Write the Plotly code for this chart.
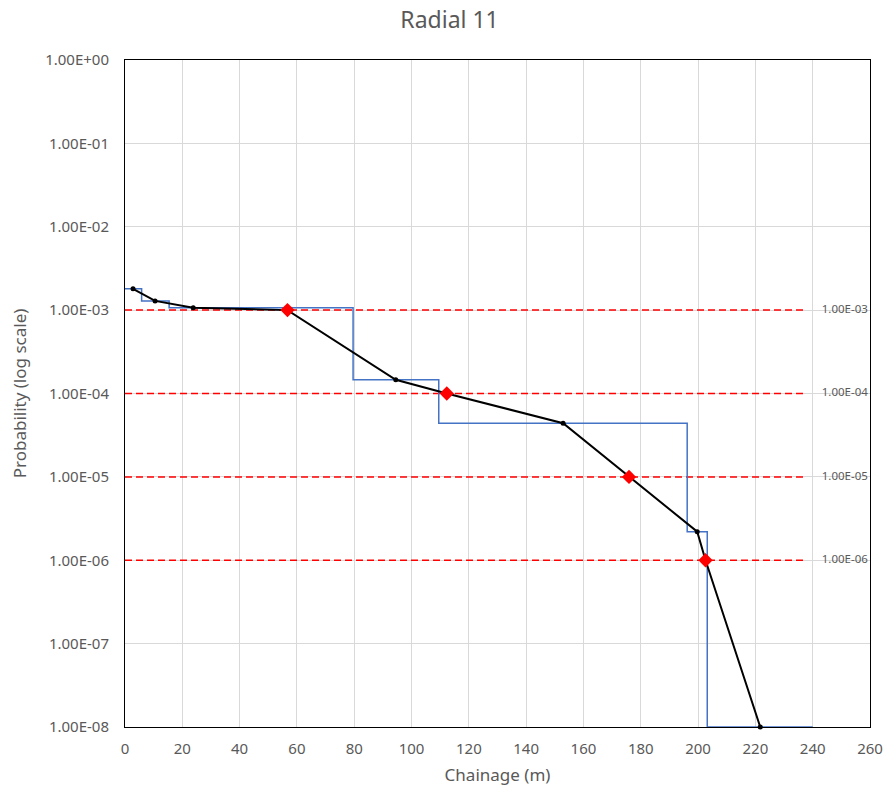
import plotly.graph_objects as go

# Blue step profile
step_x = [0, 5.8, 15.4, 79.6, 109.5, 196.2, 203.2, 240]
step_y = [1.8e-3, 1.29e-3, 1.07e-3, 1.46e-4, 4.4e-5, 2.2e-6, 1e-8, 1e-8]

# Black line (points incl. threshold crossings)
line_x = [2.8, 10.5, 23.8, 56.7, 94.5, 112.3, 152.9, 175.9, 199.7, 202.6, 221.7]
line_y = [1.8e-3, 1.29e-3, 1.07e-3, 1e-3, 1.46e-4, 1e-4, 4.4e-5, 1e-5, 2.2e-6, 1e-6, 1e-8]

# Black dot markers
dot_x = [2.8, 10.5, 23.8, 94.5, 152.9, 199.7, 221.7]
dot_y = [1.8e-3, 1.29e-3, 1.07e-3, 1.46e-4, 4.4e-5, 2.2e-6, 1e-8]

# Red diamond crossings
cross_x = [56.7, 112.3, 175.9, 202.6]
cross_y = [1e-3, 1e-4, 1e-5, 1e-6]

# Threshold lines
thresholds = [1e-3, 1e-4, 1e-5, 1e-6]
threshold_labels = ["1.00E-03", "1.00E-04", "1.00E-05", "1.00E-06"]
threshold_x_end = 238
label_x = 251.2

y_tickvals = [1e0, 1e-1, 1e-2, 1e-3, 1e-4, 1e-5, 1e-6, 1e-7, 1e-8]
y_ticktext = ["1.00E+00", "1.00E-01", "1.00E-02", "1.00E-03", "1.00E-04",
              "1.00E-05", "1.00E-06", "1.00E-07", "1.00E-08"]

fig = go.Figure()

for t in thresholds:
    fig.add_trace(go.Scatter(x=[0, threshold_x_end], y=[t, t], mode="lines",
                             line=dict(color="#FF0000", width=1.5, dash="7px,4px"),
                             showlegend=False, hoverinfo="skip"))

fig.add_trace(go.Scatter(x=step_x, y=step_y, mode="lines", line_shape="hv",
                         line=dict(color="#4472C4", width=1.5), showlegend=False))

fig.add_trace(go.Scatter(x=line_x, y=line_y, mode="lines",
                         line=dict(color="#000000", width=2), showlegend=False))

fig.add_trace(go.Scatter(x=dot_x, y=dot_y, mode="markers",
                         marker=dict(color="#000000", size=5), showlegend=False,
                         cliponaxis=False))

fig.add_trace(go.Scatter(x=cross_x, y=cross_y, mode="markers",
                         marker=dict(color="#FF0000", size=11, symbol="diamond"),
                         showlegend=False))

fig.add_trace(go.Scatter(x=[label_x] * len(thresholds), y=thresholds, mode="text",
                         text=threshold_labels,
                         textfont=dict(size=11.5, color="#595959", family="Noto Sans"),
                         showlegend=False, cliponaxis=False))

fig.update_layout(
    width=885, height=788,
    margin=dict(l=125, r=15, t=60, b=61),
    paper_bgcolor="white", plot_bgcolor="white",
    font=dict(family="Noto Sans", size=15, color="#595959"),
    title=dict(text="Radial 11", x=0.508, xref="container", xanchor="center",
               y=0.975, yanchor="middle", font=dict(size=23, color="#595959")),
)

fig.update_xaxes(range=[0, 260], dtick=20, tick0=0, showgrid=True,
                 gridcolor="#D9D9D9", gridwidth=1, showline=True, linecolor="#000000",
                 linewidth=1, mirror=True, ticks="", zeroline=False,
                 ticklabelstandoff=8, automargin=False,
                 title=dict(text="Chainage (m)", font=dict(size=17, color="#595959"),
                            standoff=12))
fig.update_yaxes(type="log", range=[-8, 0], tickvals=y_tickvals, ticktext=y_ticktext,
                 showgrid=True, gridcolor="#D9D9D9", gridwidth=1, showline=True,
                 linecolor="#000000", linewidth=1, mirror=True, ticks="",
                 zeroline=False, ticklabelstandoff=12, automargin=False,
                 title=dict(text="Probability (log scale)",
                            font=dict(size=17, color="#595959"), standoff=14))

fig.write_html("out.html", config={"responsive": False, "displayModeBar": False},
               post_script="document.body.style.margin='0';document.body.style.overflow='hidden';")
